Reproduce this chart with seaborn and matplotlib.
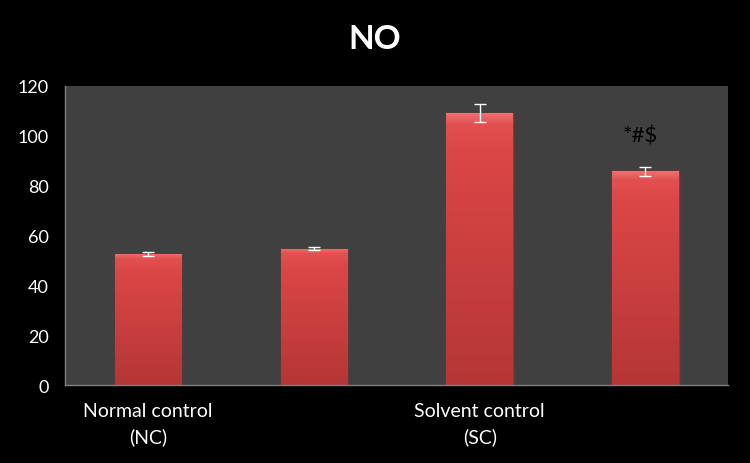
import numpy as np
import pandas as pd
import matplotlib
matplotlib.use("Agg")
import matplotlib.pyplot as plt
from matplotlib.colors import LinearSegmentedColormap
import seaborn as sns

# Data
groups = ["NC", "G2", "SC", "G4"]
tick_labels = ["Normal control\n(NC)", "", "Solvent control\n(SC)", ""]
values = [52.7, 54.7, 109.0, 85.7]
errors = [0.8, 0.7, 3.6, 1.8]
marks = ["", "", "", "*#$"]

sns.set_style("dark")
plt.rcParams["font.family"] = ["Lato", "DejaVu Sans"]

df = pd.DataFrame({"group": groups, "value": values})

fig = plt.figure(figsize=(7.5, 4.64), dpi=100, facecolor="black")
ax = fig.add_axes([0.087, 0.168, 0.884, 0.645])
ax.set_facecolor("#404040")

sns.barplot(data=df, x="group", y="value", color="#d94545", width=0.4,
            errorbar=None, saturation=1, edgecolor="#9e3030", linewidth=1, ax=ax)

# gradient fill clipped to each bar
cmap = LinearSegmentedColormap.from_list(
    "bar", [(0, "#b53636"), (0.85, "#db4646"), (0.96, "#e25050"), (1, "#f07070")])
grad = np.linspace(0, 1, 256).reshape(-1, 1)
for p in ax.patches:
    x0, y0 = p.get_x(), p.get_y()
    w, h = p.get_width(), p.get_height()
    im = ax.imshow(grad, cmap=cmap, origin="lower", aspect="auto",
                   extent=[x0, x0 + w, y0, y0 + h], zorder=p.get_zorder() + 0.1)
    im.set_clip_path(p)

ax.errorbar(range(len(values)), values, yerr=errors, fmt="none",
            ecolor="white", elinewidth=1, capsize=4.5, capthick=1, zorder=5)

for i, m in enumerate(marks):
    if m:
        ax.text(i - 0.03, values[i] + errors[i] + 12.5, m, ha="center", va="center",
                fontsize=16, color="black", zorder=6)

ax.set_xlim(-0.5, 3.5)
ax.set_ylim(0, 120)
ax.set_yticks(range(0, 121, 20))
ax.set_xticks(range(len(groups)))
ax.set_xticklabels(tick_labels, linespacing=1.55)
ax.set_xticks(np.arange(-0.5, 3.6, 1), minor=True)
ax.tick_params(axis="x", which="major", length=0, pad=12, labelsize=14, colors="white")
ax.tick_params(axis="x", which="minor", length=6, color="#808080", direction="out")
ax.tick_params(axis="y", length=6, color="#808080", direction="out",
               labelsize=13, labelcolor="white", pad=6)
ax.set_xlabel("")
ax.set_ylabel("")
ax.grid(False)
for s in ["top", "right"]:
    ax.spines[s].set_visible(False)
for s in ["left", "bottom"]:
    ax.spines[s].set_visible(True)
    ax.spines[s].set_color("#808080")
    ax.spines[s].set_linewidth(1)

fig.text(0.5, 0.915, "NO", ha="center", va="center", fontsize=24,
         fontweight="bold", color="white")

fig.savefig("out.png", dpi=100, facecolor="black")
